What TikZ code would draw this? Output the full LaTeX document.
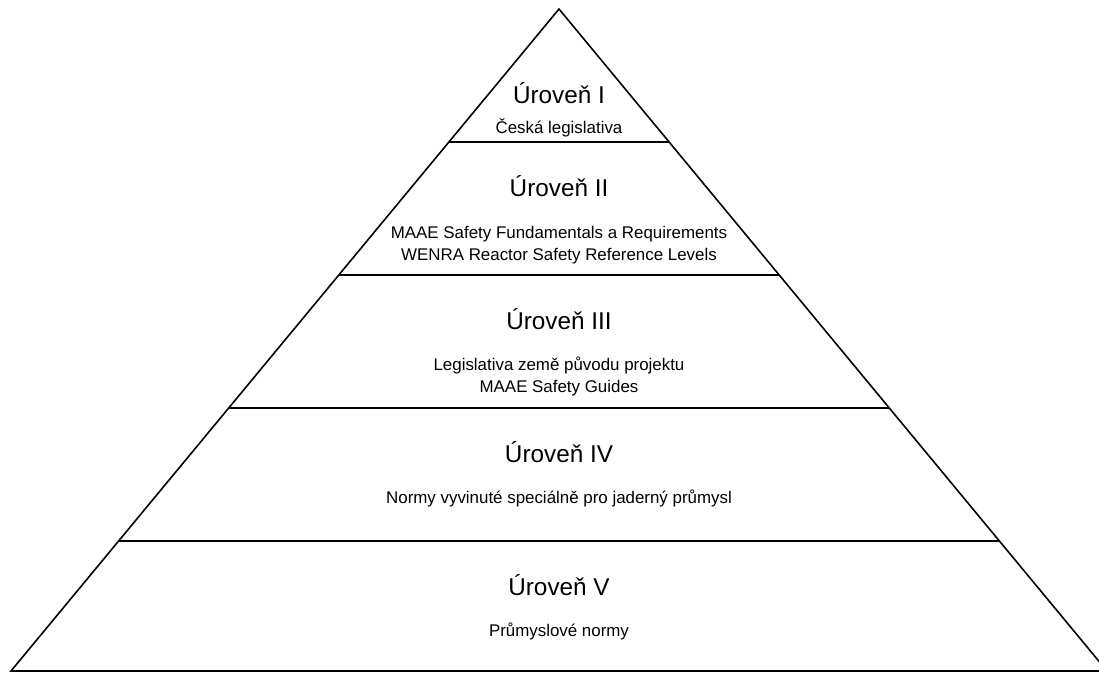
\documentclass[tikz,border=0pt]{standalone}
\usepackage{fontspec}
\setmainfont{Liberation Sans}
\usetikzlibrary{calc}
\tikzset{
  edge/.style={line width=1.6pt, line join=miter},
  sep/.style={line width=1.8pt},
  title/.style={anchor=base, inner sep=0pt, font=\fontsize{24.3}{28}\selectfont},
  sub/.style={anchor=base, inner sep=0pt, font=\fontsize{16.9}{20}\selectfont},
}
\begin{document}
\begin{tikzpicture}[x=1pt,y=-1pt]
\useasboundingbox (0,0) rectangle (1099,673);
\coordinate (apex) at (559,9);
\coordinate (bl) at (11,671);
\coordinate (br) at (1107,671);
% separators
\foreach \k in {1,2,3,4}{
  \draw[sep] ($(apex)!{133*\k/662}!(bl)$) -- ($(apex)!{133*\k/662}!(br)$);
}
\draw[edge] (bl) -- (apex) -- (br) -- cycle;
% texts
\node[title] (t1) at (559,103) {Úroveň I};
\node[sub] (s1) at (559,133) {Česká legislativa};
\node[title] (t2) at (559,196) {Úroveň II};
\node[sub] (s2a) at (559,238) {MAAE Safety Fundamentals a Requirements};
\node[sub] (s2b) at (559,260) {WENRA Reactor Safety Reference Levels};
\node[title] (t3) at (559,329) {Úroveň III};
\node[sub] (s3a) at (559,370) {Legislativa země původu projektu};
\node[sub] (s3b) at (559,392) {MAAE Safety Guides};
\node[title] (t4) at (559,462) {Úroveň IV};
\node[sub] (s4) at (559,503) {Normy vyvinuté speciálně pro jaderný průmysl};
\node[title] (t5) at (559,595) {Úroveň V};
\node[sub] (s5) at (559,636) {Průmyslové normy};
\end{tikzpicture}
\end{document}
